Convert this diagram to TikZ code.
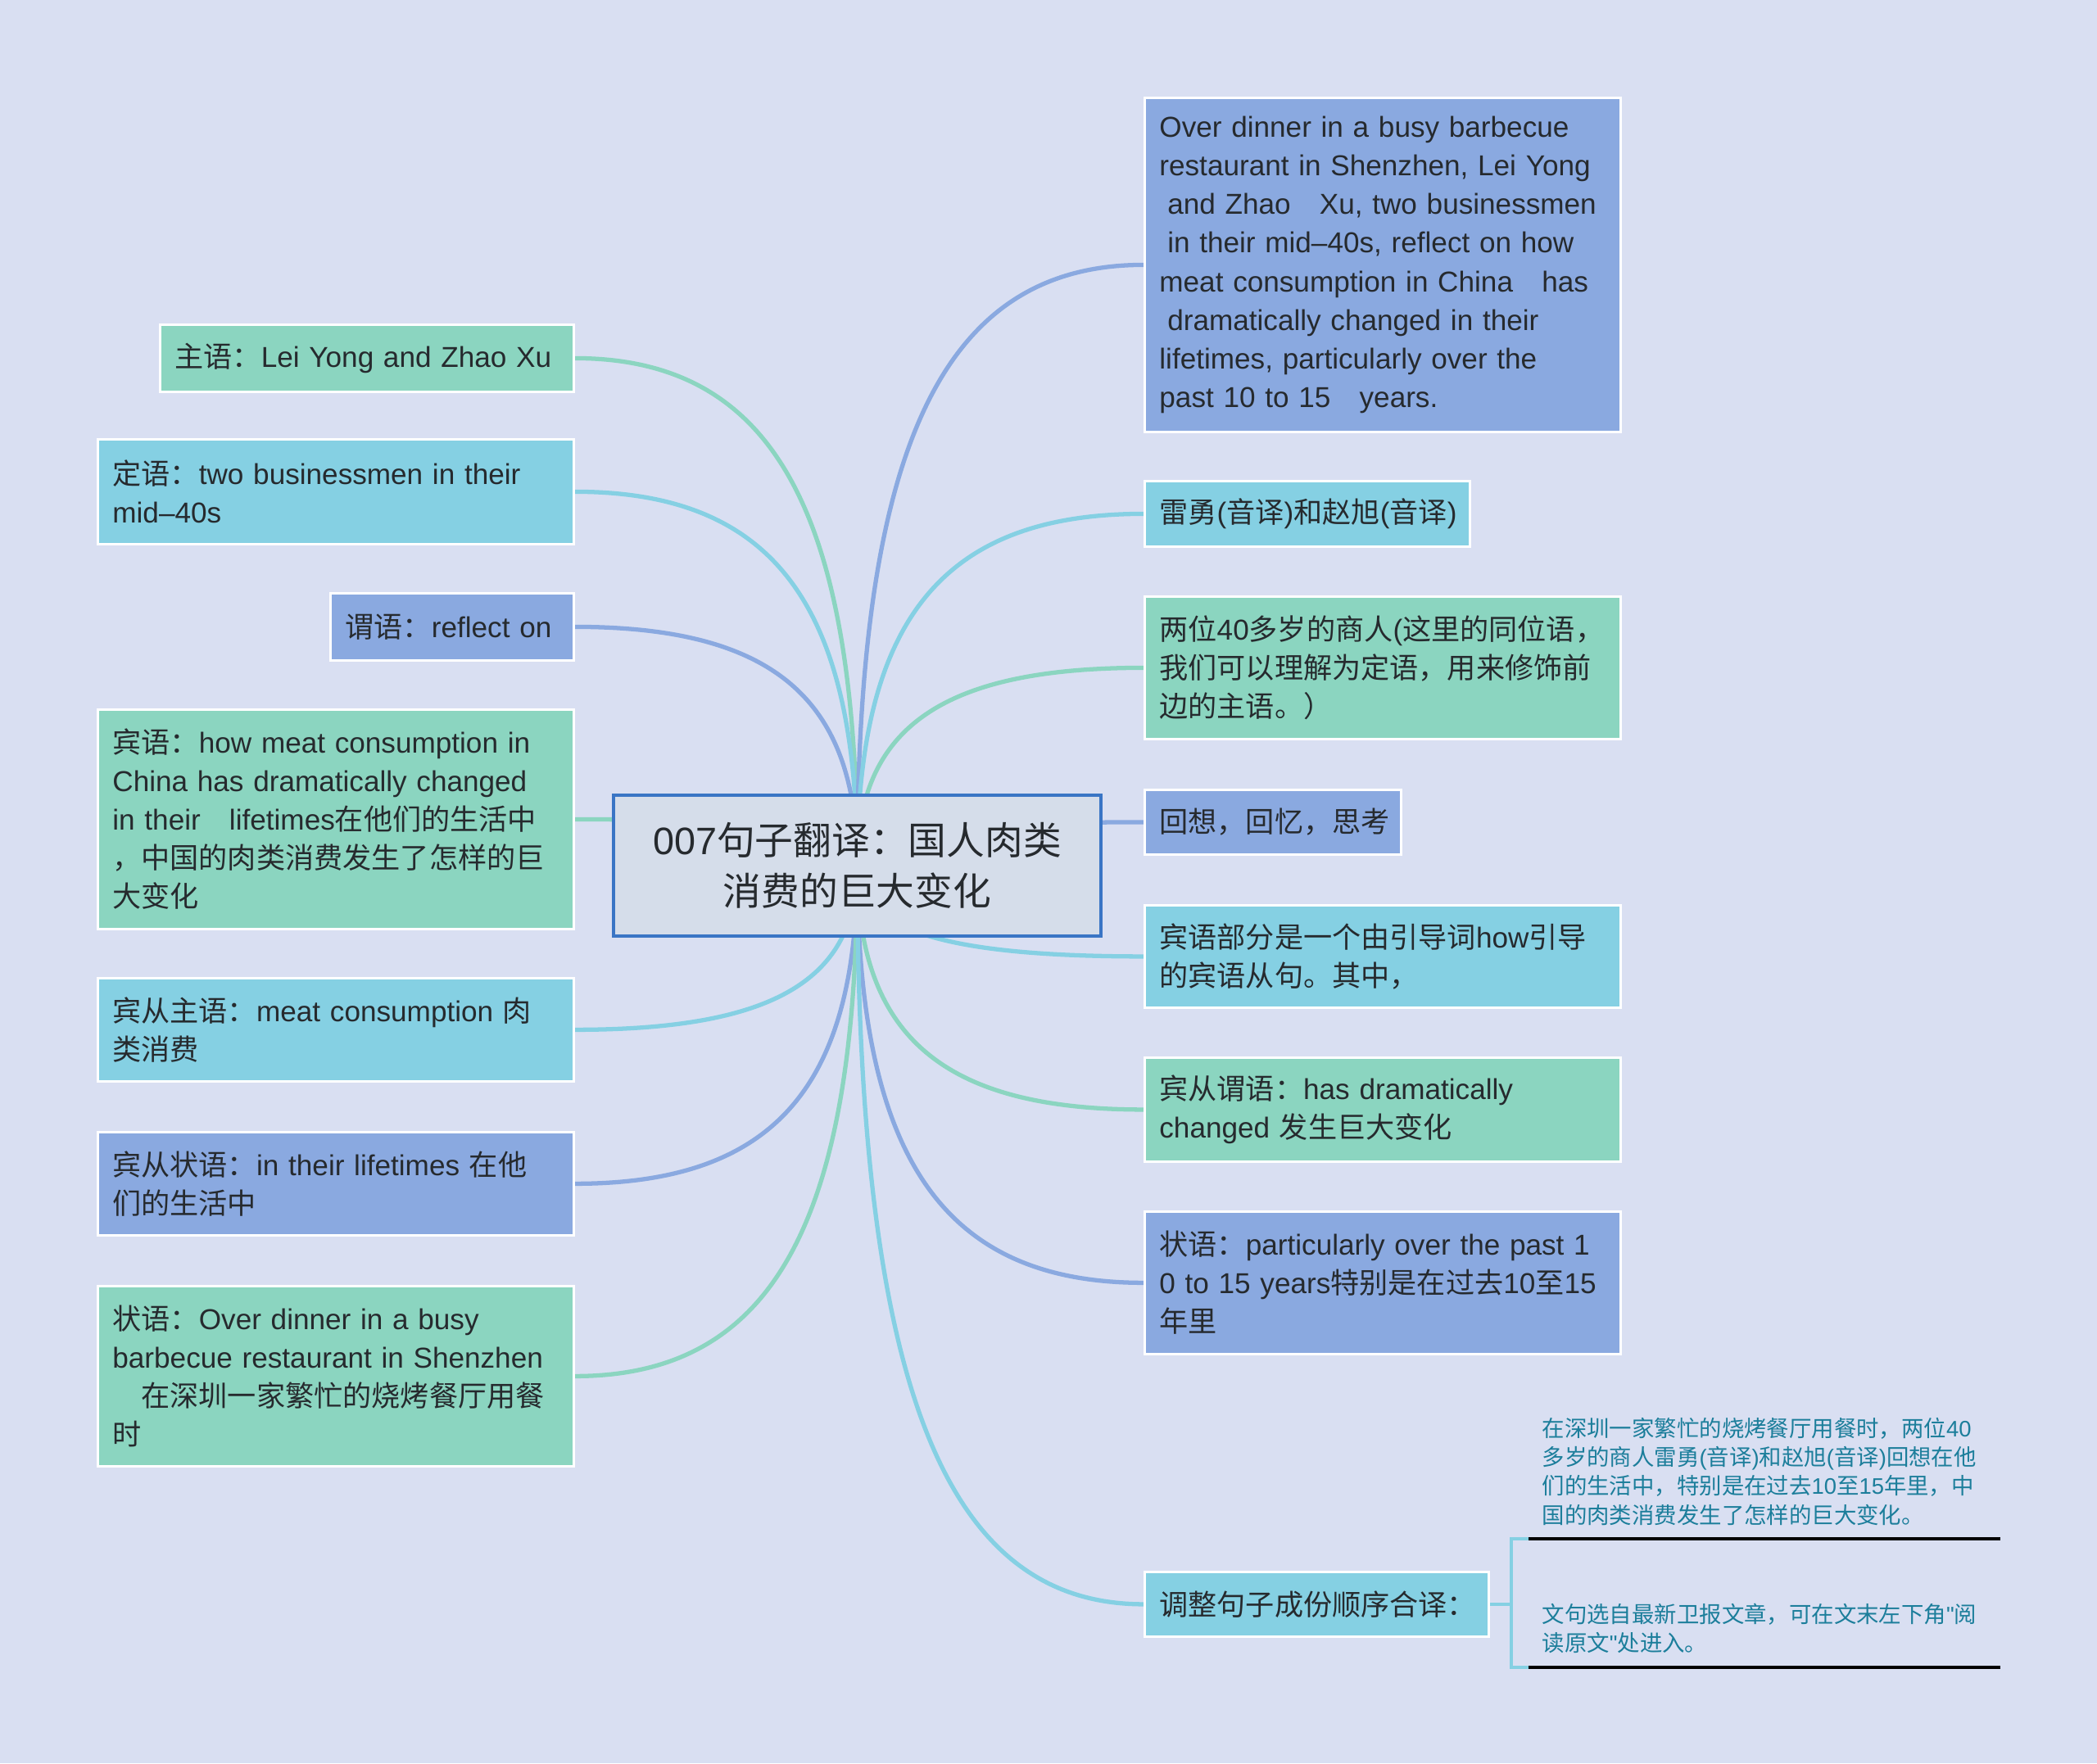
\documentclass[tikz,border=0pt]{standalone}
\usepackage{fontspec}
\newfontfamily\enfont{Liberation Sans}
\newfontfamily\zhfont{Noto Sans CJK SC}
\usetikzlibrary{calc,backgrounds}

% switch to the CJK face for Chinese characters and punctuation
\XeTeXinterchartokenstate=1
\newXeTeXintercharclass\zhclass
\newcount\zhcode
\def\zhrange#1#2{\zhcode=#1\relax
  \loop\XeTeXcharclass\zhcode=\zhclass
  \ifnum\zhcode<#2\relax\advance\zhcode by 1\relax\repeat}
\zhrange{"3000}{"303F}
\zhrange{"4E00}{"9FFF}
\zhrange{"FF00}{"FFEF}
\XeTeXinterchartoks 0 \zhclass = {\zhfont}
\XeTeXinterchartoks 4095 \zhclass = {\zhfont}
\XeTeXinterchartoks \zhclass 0 = {\enfont}

\definecolor{bgc}{HTML}{D9DFF2}
\definecolor{grn}{HTML}{8BD5C0}
\definecolor{cyn}{HTML}{85D0E3}
\definecolor{blu}{HTML}{8AA9E0}
\definecolor{hubfill}{HTML}{D5DDEA}
\definecolor{hubline}{HTML}{3A75C5}
\definecolor{txt}{HTML}{262A2E}
\definecolor{leaftext}{HTML}{1C7E9B}

\begin{document}
\begin{tikzpicture}[
    sub/.style={rectangle, draw=white, line width=0.8pt, anchor=north west, align=left, inner xsep=0.18cm, inner ysep=0pt, text=txt, font={\enfont\fontsize{10}{13.4}\selectfont\hyphenpenalty10000\exhyphenpenalty10000\relax}},
    grnbox/.style={sub, fill=grn},
    cynbox/.style={sub, fill=cyn},
    blubox/.style={sub, fill=blu},
    hub/.style={rectangle, draw=hubline, fill=hubfill, line width=1pt, minimum width=5.95cm, minimum height=1.72cm, align=center, text=txt, font=\enfont\fontsize{13.3}{17.6}\selectfont},
    leaf/.style={anchor=south west, align=left, text width=5.43cm, inner xsep=0.16cm, inner ysep=0.16cm, text=leaftext, font=\enfont\fontsize{7.8}{10}\selectfont},
    link/.style={line width=1.5pt, to path={.. controls ($(\tikztostart)!0.7!(\tikztostart |- \tikztotarget)$) and ($(\tikztotarget)!0.7!(\tikztostart |- \tikztotarget)$) .. (\tikztotarget)}}
]
\useasboundingbox (0,0) rectangle (25.6,-21.53);

% centre topic
\node[hub] (hub) at (10.465,-10.57) {007句子翻译：国人肉类\\消费的巨大变化};

% left branches
\node[grnbox, text width=4.69cm, minimum height=0.82cm] (zhuyu) at (1.94,-3.95) {主语：Lei Yong and Zhao Xu};
\node[cynbox, text width=5.45cm, minimum height=1.28cm] (dingyu) at (1.18,-5.35) {定语：two businessmen in their\\mid–40s};
\node[blubox, text width=2.61cm, minimum height=0.82cm] (weiyu) at (4.02,-7.23) {谓语：reflect on};
\node[grnbox, text width=5.45cm, minimum height=2.68cm] (binyu) at (1.18,-8.65) {宾语：how meat consumption in\\China has dramatically changed\\in their　lifetimes在他们的生活中\\，中国的肉类消费发生了怎样的巨\\大变化};
\node[cynbox, text width=5.45cm, minimum height=1.26cm] (bczhuyu) at (1.18,-11.93) {宾从主语：meat consumption 肉\\类消费};
\node[blubox, text width=5.45cm, minimum height=1.26cm] (bczhuangyu) at (1.18,-13.81) {宾从状语：in their lifetimes 在他\\们的生活中};
\node[grnbox, text width=5.45cm, minimum height=2.20cm] (zhuangyu) at (1.18,-15.69) {状语：Over dinner in a busy\\barbecue restaurant in Shenzhen\\　在深圳一家繁忙的烧烤餐厅用餐\\时};

% right branches
\node[blubox, text width=5.45cm, minimum height=4.08cm] (yuanwen) at (13.96,-1.18) {Over dinner in a busy barbecue\\restaurant in Shenzhen, Lei Yong\\\hspace*{0.28em}and Zhao　Xu, two businessmen\\\hspace*{0.28em}in their mid–40s, reflect on how\\meat consumption in China　has\\\hspace*{0.28em}dramatically changed in their\\lifetimes, particularly over the\\past 10 to 15　years.};
\node[cynbox, text width=3.61cm, minimum height=0.80cm] (leiyong) at (13.96,-5.86) {雷勇(音译)和赵旭(音译)};
\node[grnbox, text width=5.45cm, minimum height=1.74cm] (liangwei) at (13.96,-7.27) {两位40多岁的商人(这里的同位语，\\我们可以理解为定语，用来修饰前\\边的主语。）};
\node[blubox, text width=2.77cm, minimum height=0.79cm] (huixiang) at (13.96,-9.63) {回想，回忆，思考};
\node[cynbox, text width=5.45cm, minimum height=1.25cm] (binyubf) at (13.96,-11.04) {宾语部分是一个由引导词how引导\\的宾语从句。其中，};
\node[grnbox, text width=5.45cm, minimum height=1.27cm] (bcweiyu) at (13.96,-12.90) {宾从谓语：has dramatically\\changed 发生巨大变化};
\node[blubox, text width=5.45cm, minimum height=1.74cm] (zhuangyub) at (13.96,-14.78) {状语：particularly over the past 1\\0 to 15 years特别是在过去10至15\\年里};
\node[cynbox, text width=3.84cm, minimum height=0.79cm] (tiaozheng) at (13.96,-19.18) {调整句子成份顺序合译：};

% leaves of the last branch
\node[leaf] (yiwen) at (18.66,-18.79) {在深圳一家繁忙的烧烤餐厅用餐时，两位40\\多岁的商人雷勇(音译)和赵旭(音译)回想在他\\们的生活中，特别是在过去10至15年里，中\\国的肉类消费发生了怎样的巨大变化。};
\node[leaf] (chuchu) at (18.66,-20.36) {文句选自最新卫报文章，可在文末左下角"阅\\读原文"处进入。};
\draw[black, line width=1.1pt] (yiwen.south west) -- (yiwen.south east);
\draw[black, line width=1.1pt] (chuchu.south west) -- (chuchu.south east);

\begin{scope}[on background layer]
\fill[bgc] (0,0) rectangle (25.6,-21.53);
\draw[link, grn] (hub.center) to (zhuyu.east);
\draw[link, cyn] (hub.center) to (dingyu.east);
\draw[link, blu] (hub.center) to (weiyu.east);
\draw[link, grn] (hub.center) to (binyu.east);
\draw[link, cyn] (hub.center) to (bczhuyu.east);
\draw[link, blu] (hub.center) to (bczhuangyu.east);
\draw[link, grn] (hub.center) to (zhuangyu.east);
\draw[link, blu] (hub.center) to (yuanwen.west);
\draw[link, cyn] (hub.center) to (leiyong.west);
\draw[link, grn] (hub.center) to (liangwei.west);
\draw[link, blu] (hub.center) to (huixiang.west);
\draw[link, cyn] (hub.center) to (binyubf.west);
\draw[link, grn] (hub.center) to (bcweiyu.west);
\draw[link, blu] (hub.center) to (zhuangyub.west);
\draw[link, cyn] (hub.center) to (tiaozheng.west);
\draw[cyn, line width=1pt] (tiaozheng.east) -- ++(0.26,0) |- (yiwen.south west);
\draw[cyn, line width=1pt] (tiaozheng.east) -- ++(0.26,0) |- (chuchu.south west);
\end{scope}
\end{tikzpicture}
\end{document}
